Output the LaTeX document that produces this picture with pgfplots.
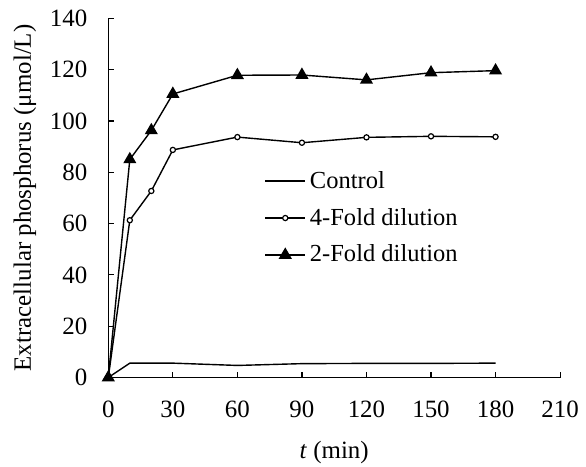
\documentclass[border=0pt]{standalone}
\usepackage{fontspec}
\setmainfont{Liberation Serif}
\usepackage{pgfplots}
\pgfplotsset{compat=1.18}

\pgfplotsset{
  tri legend/.style={legend image code/.code={
    \draw[mark repeat=2,mark phase=2,##1] plot coordinates {(0bp,0bp) (10bp,0bp) (20bp,0bp)};}},
}

\begin{document}
\begin{tikzpicture}
\useasboundingbox (-54.15bp,-44.75bp) rectangle (238.85bp,188.75bp);
\begin{axis}[scale only axis,width=225.9bp,height=179.6bp,
 axis lines=left,axis line style={-,line width=0.65bp},
 xmin=0,xmax=210,ymin=0,ymax=140,
 xtick={0,30,...,210},ytick={0,20,...,140},
 tick align=inside,major tick length=3bp,tick style={line width=0.6bp,black},
 clip=false,
 /pgf/number format/assume math mode=true,
 tick label style={font=\fontsize{12.5}{14}\selectfont},
 yticklabel style={xshift=-7bp},
 xticklabel style={yshift=-8bp},
 label style={font=\fontsize{12.5}{14}\selectfont},
 xlabel={\textit{t} (min)},
 ylabel={Extracellular phosphorus (μmol/L)},
 xlabel style={yshift=-5bp},
 ylabel style={yshift=0bp},
 legend cell align=left,
 legend style={draw=none,fill=none,at={(0.345,0.444)},anchor=west,
   row sep=4.5bp,inner sep=0pt,font=\fontsize{12.3}{14}\selectfont},
 tri legend,
]
\addplot[black,line width=0.7bp,mark=none] coordinates {
 (0,0) (10,5.6) (30,5.6) (60,4.7) (90,5.4) (120,5.5) (150,5.5) (180,5.6)};
\addlegendentry{Control}
\addplot[black,line width=0.7bp,mark=*,mark size=1.3bp,mark options={fill=white,line width=0.6bp}] coordinates {
 (0,0) (10,61.3) (20,72.7) (30,88.7) (60,93.7) (90,91.5) (120,93.6) (150,94) (180,93.8)};
\addlegendentry{4-Fold dilution}
\addplot[black,line width=0.7bp,mark=triangle*,mark size=3.1bp,mark options={fill=black}] coordinates {
 (0,0) (10,85) (20,96.3) (30,110.5) (60,117.8) (90,117.9) (120,116) (150,118.8) (180,119.6)};
\addlegendentry{2-Fold dilution}
\end{axis}
\end{tikzpicture}
\end{document}
